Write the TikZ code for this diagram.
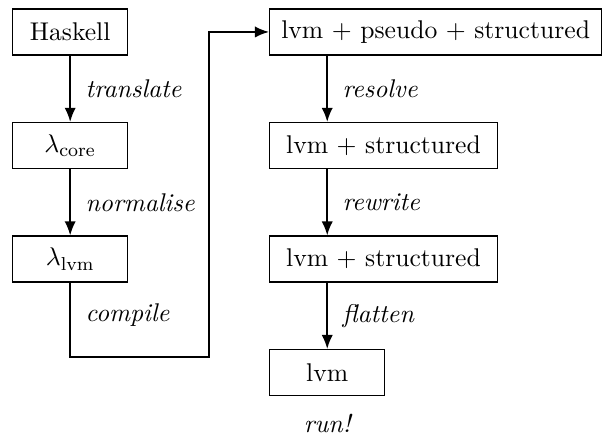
\documentclass[tikz,border=0pt,11pt]{standalone}
\usetikzlibrary{arrows.meta}

\begin{document}
\begin{tikzpicture}[
  stage/.style={draw,line width=0.5pt,anchor=west,minimum width=1.73cm,minimum height=0.69cm,inner xsep=5pt},
  wide/.style={stage,minimum width=3.42cm},
  flow/.style={thick,-{Latex[length=6pt,width=4.8pt]}},
  lbl/.style={right=2.5pt,font=\itshape}]
\useasboundingbox (0,0) rectangle (9.04,-6.565);

% source side
\node[stage] (hask) at (0.18,-0.48) {Haskell};
\node[stage] (core) at (0.18,-2.185) {$\lambda_{\mathrm{core}}$};
\node[stage] (llvm) at (0.18,-3.89) {$\lambda_{\mathrm{lvm}}$};

% target side
\node[stage] (pls) at (4.04,-0.48) {lvm + pseudo + structured};
\node[wide] (ls1) at (4.04,-2.185) {lvm + structured};
\node[wide] (ls2) at (4.04,-3.89) {lvm + structured};
\node[stage] (lvm) at (4.04,-5.595) {lvm};
\node[below=4pt,font=\itshape] (run) at (lvm.south) {run!};

\coordinate (low) at (3.14,-5.36);

\draw[flow] (hask) -- node[lbl]{translate} (core);
\draw[flow] (core) -- node[lbl]{normalise} (llvm);
\draw[flow] (llvm.south) -- node[lbl,yshift=2pt]{compile} (llvm.south |- low) -- (low) |- (pls.west);

\draw[flow] (pls.south -| lvm) -- node[lbl]{resolve} (ls1.north -| lvm);
\draw[flow] (ls1.south -| lvm) -- node[lbl]{rewrite} (ls2.north -| lvm);
\draw[flow] (ls2.south -| lvm) -- node[lbl]{flatten} (lvm);

\end{tikzpicture}
\end{document}
